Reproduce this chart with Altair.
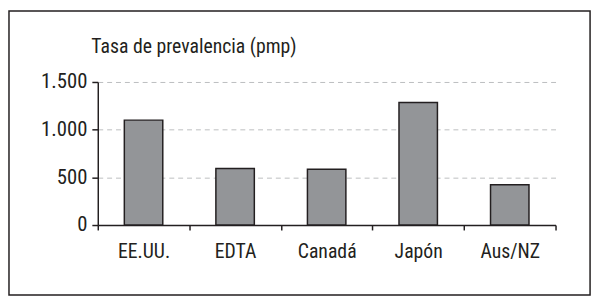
import altair as alt
import pandas as pd

categories = ["EE.UU.", "EDTA", "Canadá", "Japón", "Aus/NZ"]
values = [1100, 592, 586, 1285, 423]
y_ticks = [0, 500, 1000, 1500]
title_text = "Tasa de prevalencia (pmp)"

df = pd.DataFrame({"region": categories, "tasa": values})

FONT = "Liberation Sans Narrow, Roboto Condensed, Arial Narrow, Liberation Sans, sans-serif"
DARK = "#231f20"

bars = alt.Chart(df).mark_bar(
    width=alt.RelativeBandSize(0.42),
    fill="#939598",
    stroke=DARK,
    strokeWidth=1.5,
).encode(
    x=alt.X(
        "region:N",
        sort=categories,
        scale=alt.Scale(paddingInner=0, paddingOuter=0),
        axis=alt.Axis(
            title=None,
            labelAngle=0,
            labelAlign="center",
            labelBaseline="top",
            labelPadding=12,
            tickBand="extent",
            tickSize=5,
            labelFontSize=20,
        ),
    ),
    y=alt.Y(
        "tasa:Q",
        scale=alt.Scale(domain=[0, 1500], nice=False),
        axis=alt.Axis(
            values=y_ticks,
            title=title_text,
            titleAngle=0,
            titleX=-7,
            titleY=-30,
            titleAlign="left",
            titleBaseline="alphabetic",
            titleFontSize=20,
            titleFontWeight="normal",
            labelExpr="replace(format(datum.value, ','), ',', '.')",
            labelFontSize=21,
            labelPadding=5,
            tickSize=6,
            grid=True,
            gridDash=[5, 4],
            gridColor="#bcbec0",
            gridWidth=1,
        ),
    ),
)

border = alt.Chart(alt.Data(values=[{}])).mark_rect(
    fillOpacity=0, stroke=DARK, strokeWidth=1.5
).encode(
    x=alt.value(-90),
    x2=alt.value(499),
    y=alt.value(-72),
    y2=alt.value(216),
)

chart = alt.layer(bars, border).properties(
    width=464,
    height=145,
    autosize=alt.AutoSizeParams(type="none"),
    padding={"left": 91, "top": 73, "right": 40, "bottom": 74},
).configure_view(stroke=None).configure_axis(
    labelFont=FONT,
    titleFont=FONT,
    labelColor=DARK,
    titleColor=DARK,
    domainColor=DARK,
    tickColor=DARK,
    domainWidth=1.5,
    tickWidth=1.5,
)

chart.save("out.html", embed_options={"renderer": "svg", "actions": False})
